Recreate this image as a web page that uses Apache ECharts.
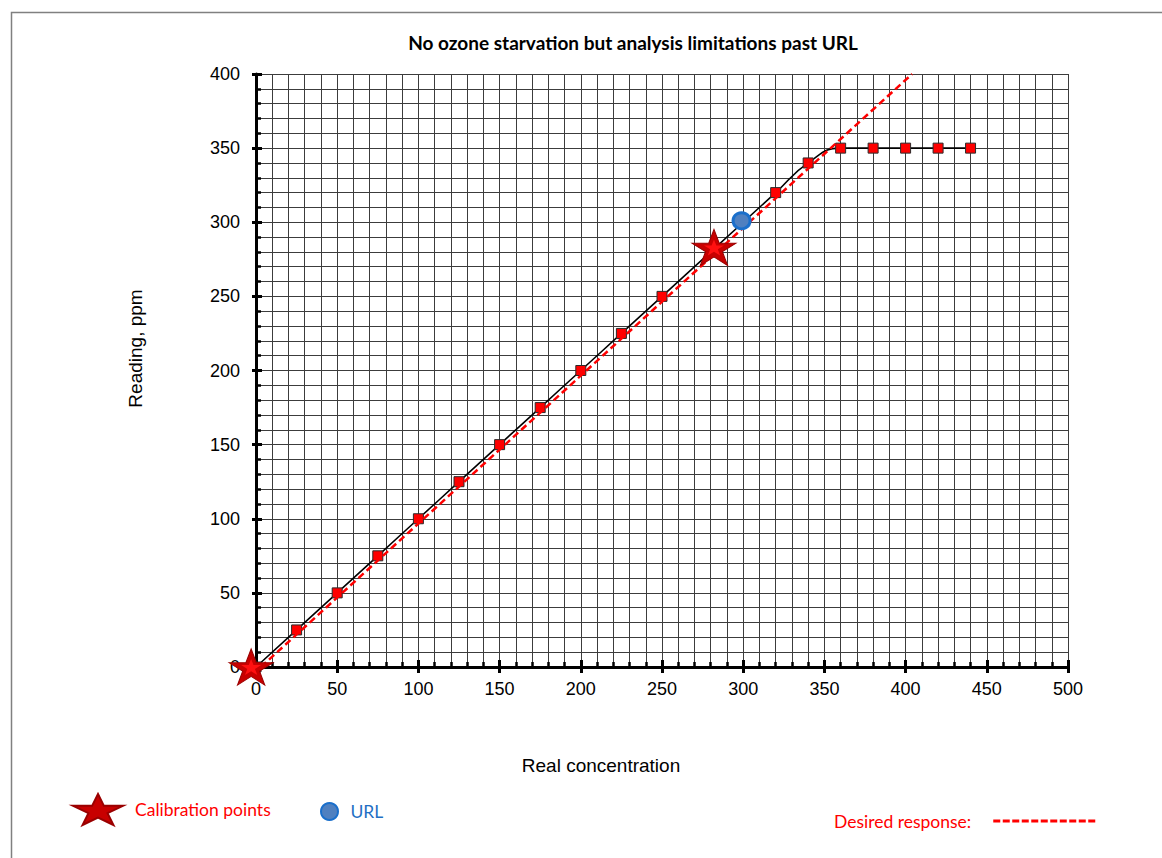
<!DOCTYPE html>
<html>
<head>
<meta charset="utf-8">
<script src="https://cdn.jsdelivr.net/npm/echarts@6/dist/echarts.min.js"></script>
<style>
html,body{margin:0;padding:0;background:#fff;}
#chart{width:1162px;height:858px;}
</style>
</head>
<body>
<div id="chart"></div>
<script>
// ---- data ----
const titleText = 'No ozone starvation but analysis limitations past URL';
const xAxisName = 'Real concentration';
const yAxisName = 'Reading, ppm';
const xTicks = [0, 50, 100, 150, 200, 250, 300, 350, 400, 450, 500];
const yTicks = [0, 50, 100, 150, 200, 250, 300, 350, 400];
// measured response (black line with red squares)
const realConc = [0, 25, 50, 75, 100, 125, 150, 175, 200, 225, 250, 280, 320, 340, 360, 380, 400, 420, 440];
const readings = [0, 25, 50, 75, 100, 125, 150, 175, 200, 225, 250, 280, 320, 340, 350, 350, 350, 350, 350];
// calibration points (stars)
const calibX = [-3, 282];
const calibY = [0, 283];
// URL point
const urlX = [299];
const urlY = [301];
// desired response (dashed red line)
const desiredX = [3, 404];
const desiredY = [0, 400];
const legendNames = ['Calibration points', 'URL', 'Desired response:'];

// ---- build ----
const zip = (a, b) => a.map((v, i) => [v, b[i]]);
const starPath = 'path://M50,0 L61.23,34.55 L97.55,34.55 L68.17,55.9 L79.39,90.45 L50,69.1 L20.61,90.45 L31.83,55.9 L2.45,34.55 L38.77,34.55 Z';
let dashP = '';
for (let i = 0; i < 11; i++) { const x0 = i * 9.5; dashP += 'M' + x0 + ',0h7v3h-7z '; }
const dashPath = 'path://' + dashP;

const gridColor = '#3c3c3c';
const labelFont = 'Liberation Sans';
const legendFont = 'Lato';

const chart = echarts.init(document.getElementById('chart'), null, {renderer: 'svg'});
const xMin = xTicks[0], xMax = xTicks[xTicks.length - 1], xStep = xTicks[1] - xTicks[0];
const yMin = yTicks[0], yMax = yTicks[yTicks.length - 1], yStep = yTicks[1] - yTicks[0];

chart.setOption({
  backgroundColor: '#fff',
  animation: false,
  title: {
    text: titleText,
    left: 633, top: 33, textAlign: 'center', padding: 0,
    textStyle: {fontFamily: legendFont, fontWeight: 'bold', fontSize: 19, color: '#000'}
  },
  graphic: [{
    type: 'rect', shape: {x: 11.5, y: 12.5, width: 1200, height: 900},
    style: {fill: 'none', stroke: '#808080', lineWidth: 1.5}, silent: true, z: -10
  }],
  grid: {left: 256, right: 94, top: 74, bottom: 191, containLabel: false},
  legend: [
    {
      left: 72, top: 793, padding: 0, itemWidth: 50, itemHeight: 31, symbolKeepAspect: false,
      selectedMode: false,
      data: [{name: legendNames[0], icon: starPath}],
      textStyle: {color: '#ff0000', fontFamily: legendFont, fontSize: 17.5, padding: [0, 0, 0, 7]}
    },
    {
      left: 320, top: 802, padding: 0, itemWidth: 18, itemHeight: 17,
      selectedMode: false,
      data: [{name: legendNames[1], icon: 'circle'}],
      textStyle: {color: '#1f6fc4', fontFamily: legendFont, fontSize: 17.5, padding: [0, 0, 0, 7]}
    },
    {
      left: 834, top: 812, padding: 0, itemWidth: 102, itemHeight: 3, symbolKeepAspect: false,
      align: 'right', selectedMode: false,
      data: [{name: legendNames[2], icon: dashPath, itemStyle: {color: '#ff0000', borderWidth: 0}}],
      textStyle: {color: '#ff0000', fontFamily: legendFont, fontSize: 17.5, padding: [0, 17, 0, 0]}
    }
  ],
  xAxis: [
    {
      type: 'value', min: xMin, max: xMax, interval: xStep, position: 'bottom',
      name: xAxisName, nameLocation: 'middle', nameGap: 89,
      nameTextStyle: {fontFamily: labelFont, fontSize: 19, color: '#000', padding: [0, 122, 0, 0]},
      axisLine: {show: true, onZero: false, lineStyle: {color: '#000', width: 3}},
      axisTick: {show: true, inside: true, length: 7, lineStyle: {color: '#000', width: 3}},
      minorTick: {show: true, splitNumber: 5, length: 5, lineStyle: {color: '#000', width: 2.5}},
      axisLabel: {margin: 13, fontFamily: labelFont, fontSize: 18, color: '#000'},
      splitLine: {show: true, lineStyle: {color: gridColor, width: 1}},
      minorSplitLine: {show: true, lineStyle: {color: gridColor, width: 1}}
    },
    {
      type: 'value', min: xMin, max: xMax, interval: xStep, position: 'bottom',
      axisLine: {show: false}, axisLabel: {show: false}, splitLine: {show: false},
      axisTick: {show: true, inside: false, length: 6, lineStyle: {color: '#000', width: 3}}
    }
  ],
  yAxis: [
    {
      type: 'value', min: yMin, max: yMax, interval: yStep, position: 'left',
      name: yAxisName, nameLocation: 'middle', nameGap: 111, nameRotate: 90,
      nameTextStyle: {fontFamily: labelFont, fontSize: 19, color: '#000', padding: [0, 0, 0, 44]},
      axisLine: {show: true, onZero: false, lineStyle: {color: '#000', width: 3}},
      axisTick: {show: true, inside: true, length: 6, lineStyle: {color: '#000', width: 3}},
      minorTick: {show: true, splitNumber: 5, length: 5, lineStyle: {color: '#000', width: 2.5}},
      axisLabel: {margin: 16, fontFamily: labelFont, fontSize: 18, color: '#000'},
      splitLine: {show: true, lineStyle: {color: gridColor, width: 1}},
      minorSplitLine: {show: true, lineStyle: {color: gridColor, width: 1}}
    },
    {
      type: 'value', min: yMin, max: yMax, interval: yStep, position: 'left',
      axisLine: {show: false}, axisLabel: {show: false}, splitLine: {show: false},
      axisTick: {show: true, inside: false, length: 4, lineStyle: {color: '#000', width: 3}}
    }
  ],
  series: [
    {
      name: 'Measured', type: 'line', data: zip(realConc, readings),
      smooth: 0.5, z: 3,
      lineStyle: {color: '#000', width: 1.6},
      symbol: 'rect', symbolSize: 10,
      itemStyle: {color: '#ff0000', borderColor: '#2b2b2b', borderWidth: 1}
    },
    {
      name: legendNames[2], type: 'line', data: zip(desiredX, desiredY),
      z: 4, symbol: 'none',
      lineStyle: {color: '#ff0000', width: 2.5, type: [7, 4]},
      itemStyle: {color: '#ff0000'}
    },
    {
      name: legendNames[1], type: 'scatter', data: zip(urlX, urlY), clip: false,
      z: 5, symbol: 'circle', symbolSize: [17, 16],
      itemStyle: {color: '#4f80c0', borderColor: '#1a6fcb', borderWidth: 3, opacity: 1}
    },
    {
      name: legendNames[0], type: 'scatter', data: zip(calibX, calibY), clip: false,
      z: 6, symbol: starPath, symbolSize: [44, 36], symbolKeepAspect: false,
      itemStyle: {color: '#c80000', borderColor: '#9a0000', borderWidth: 1, opacity: 1}
    },
    {
      name: 'Calibration inner', type: 'scatter', data: zip(calibX, calibY), clip: false,
      z: 7, symbol: starPath, symbolSize: [20, 16], symbolKeepAspect: false,
      itemStyle: {color: '#ff1010', opacity: 1}, silent: true
    }
  ]
});
</script>
</body>
</html>
